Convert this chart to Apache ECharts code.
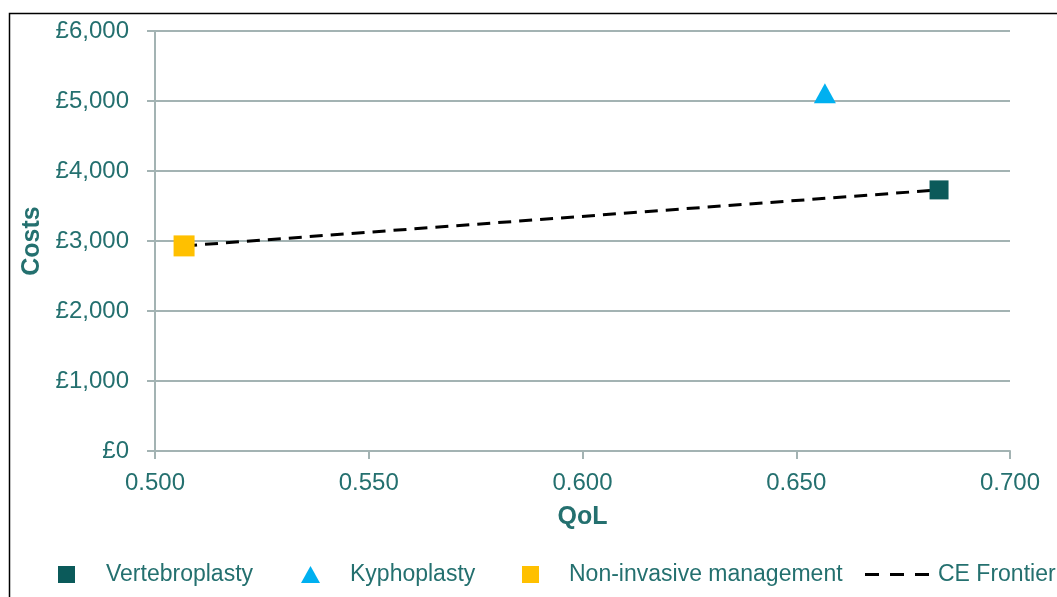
<!DOCTYPE html>
<html>
<head>
<meta charset="utf-8">
<script src="https://cdn.jsdelivr.net/npm/echarts@6/dist/echarts.min.js"></script>
<style>html,body{margin:0;padding:0;background:#fff}#c{width:1057px;height:597px}</style>
</head>
<body>
<div id="c"></div>
<script>
const seriesNames = ['Vertebroplasty', 'Kyphoplasty', 'Non-invasive management', 'CE Frontier'];
const vertebroplasty = [[0.6834, 3730]];
const kyphoplasty = [[0.6567, 5110]];
const nonInvasive = [[0.5068, 2930]];
const ceFrontier = [[0.5068, 2930], [0.6834, 3730]];
const xTicks = [0.5, 0.55, 0.6, 0.65, 0.7];
const yTicks = [0, 1000, 2000, 3000, 4000, 5000, 6000];

const textColor = '#24706f';
const gridColor = '#a3b3b3';
const font = 'Liberation Sans';

const chart = echarts.init(document.getElementById('c'));
function legendItem(name, left, icon, w, h, pad) {
  return {
    data: [name], left: left, top: 563, icon: icon, itemWidth: w, itemHeight: h,
    selectedMode: false, padding: 0,
    textStyle: { color: textColor, fontFamily: font, fontSize: 23, padding: [0, 0, 0, pad] }
  };
}
chart.setOption({
  animation: false,
  graphic: [{ type: 'rect', shape: { x: 9.5, y: 13.5, width: 1200, height: 800 }, style: { fill: 'none', stroke: '#000', lineWidth: 1.5 }, silent: true }],
  grid: { left: 155, right: 47, top: 31, bottom: 146 },
  legend: [
    legendItem(seriesNames[0], 58, 'rect', 17, 17, 26),
    legendItem(seriesNames[1], 301, 'triangle', 19, 17, 25),
    legendItem(seriesNames[2], 522, 'rect', 17, 17, 25),
    legendItem(seriesNames[3], 865, 'path://M0,0h14v3h-14z M25,0h14v3h-14z M50,0h14v3h-14z', 64, 4, 4)
  ],
  xAxis: {
    type: 'value', min: 0.5, max: 0.7, interval: 0.05,
    name: 'QoL', nameLocation: 'middle', nameGap: 54,
    nameTextStyle: { color: textColor, fontFamily: font, fontSize: 25, fontWeight: 'bold' },
    axisLine: { show: true, lineStyle: { color: gridColor, width: 2 } },
    axisTick: { show: true, length: 8, lineStyle: { color: gridColor, width: 2 } },
    splitLine: { show: false },
    axisLabel: { color: textColor, fontFamily: font, fontSize: 24, margin: 20, formatter: v => v.toFixed(3) }
  },
  yAxis: {
    type: 'value', min: 0, max: 6000, interval: 1000,
    name: 'Costs', nameLocation: 'middle', nameGap: 110, nameRotate: 90,
    nameTextStyle: { color: textColor, fontFamily: font, fontSize: 25, fontWeight: 'bold' },
    axisLine: { show: true, lineStyle: { color: gridColor, width: 2 } },
    axisTick: { show: true, length: 8, lineStyle: { color: gridColor, width: 2 } },
    splitLine: { show: true, lineStyle: { color: gridColor, width: 2 } },
    axisLabel: { color: textColor, fontFamily: font, fontSize: 24, margin: 26,
      formatter: v => '£' + v.toLocaleString('en-GB') }
  },
  series: [
    { name: seriesNames[3], type: 'line', data: ceFrontier, symbol: 'none', z: 2,
      color: '#000', lineStyle: { color: '#000', width: 3, type: [13, 8] } },
    { name: seriesNames[0], type: 'scatter', data: vertebroplasty, symbol: 'rect', symbolSize: 19, z: 3,
      itemStyle: { color: '#0b5a5a', opacity: 1 } },
    { name: seriesNames[1], type: 'scatter', data: kyphoplasty, symbol: 'triangle', symbolSize: [22, 20], z: 3,
      itemStyle: { color: '#00b0f0', opacity: 1 } },
    { name: seriesNames[2], type: 'scatter', data: nonInvasive, symbol: 'rect', symbolSize: 21, z: 3,
      itemStyle: { color: '#ffc000', opacity: 1 } }
  ]
});
</script>
</body>
</html>
